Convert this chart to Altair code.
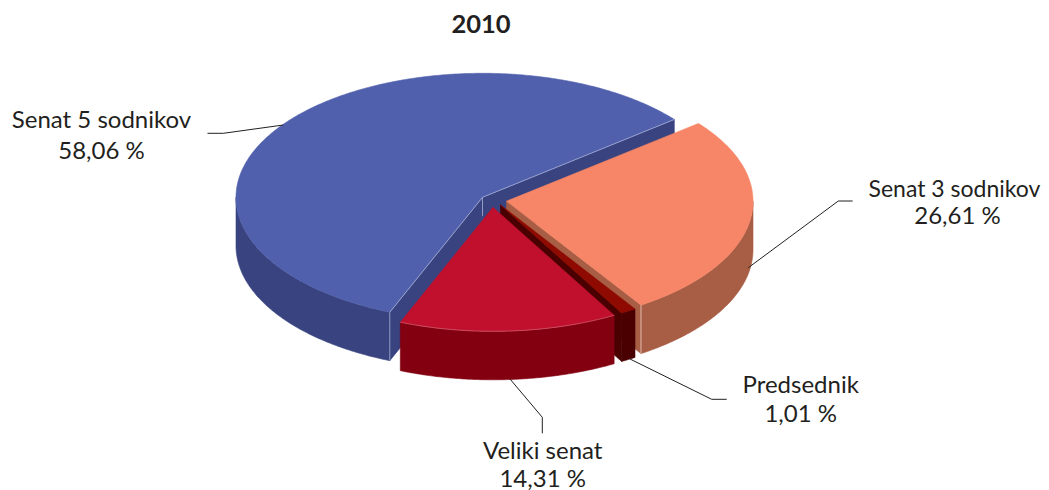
import numpy as np
import pandas as pd
import altair as alt

# ---- chart values ----
title = "2010"
categories = ["Senat 5 sodnikov", "Veliki senat", "Predsednik", "Senat 3 sodnikov"]
shares = [58.06, 14.31, 1.01, 26.61]
share_labels = ["58,06 %", "14,31 %", "1,01 %", "26,61 %"]

# ---- styling ----
top_colors = ["#5060AC", "#C0102E", "#8F0A00", "#F68667"]
side_colors = ["#38437F", "#830011", "#4A0000", "#A85D45"]
edge_colors = ["#A9B1D6", "#D9727F", "#8F0A00", "#F5D8CC"]
centers = [(482.5, 197.3), (493.0, 207.3), (500.5, 205.0), (506.5, 201.2)]
RX, RY, DEPTH, START = 246.5, 124.0, 48.5, 38.9
W, H = 1033, 482

# name x, share x, name baseline, share baseline, name font size
label_pos = [
    (101.5, 101.5, 128, 159, 24),
    (542.7, 542.7, 459.0, 486.5, 24),
    (800.7, 800.7, 393, 421.7, 24),
    (954.5, 957.5, 197, 224, 23),
]
leaders = [
    [(207.5, 133.3), (223.3, 133.3), (283.3, 125)],
    [(510, 379), (542.3, 417.3), (542.3, 433.3)],
    [(630, 359), (711.7, 399.3), (726.7, 399.3)],
    [(748.3, 267.7), (838.3, 201), (852.7, 201)],
]

x_scale = alt.Scale(domain=[8, 8 + W], range=[0, W], nice=False, zero=False)
y_scale = alt.Scale(domain=[8, 8 + H], range=[0, H], nice=False, zero=False)


def pt(c, deg, drop=0.0):
    a = np.radians(deg)
    return (c[0] + RX * np.cos(a), c[1] - RY * np.sin(a) + drop)


def arc(c, a0, a1, drop=0.0):
    n = max(2, int(abs(a1 - a0) * 2))
    return [pt(c, d, drop) for d in np.linspace(a0, a1, n)]


def frame(points):
    return pd.DataFrame({"x": [p[0] for p in points], "y": [p[1] for p in points], "i": range(len(points))})


def poly(points, color):
    pts = list(points) + [points[0]]
    return alt.Chart(frame(pts)).mark_line(fill=color, stroke=color, strokeWidth=0.6, strokeJoin="round").encode(
        x=alt.X("x:Q", scale=x_scale, axis=None),
        y=alt.Y("y:Q", scale=y_scale, axis=None),
        order="i:Q",
    )


def line(points, color, width=1.0):
    return alt.Chart(frame(points)).mark_line(stroke=color, strokeWidth=width).encode(
        x=alt.X("x:Q", scale=x_scale, axis=None),
        y=alt.Y("y:Q", scale=y_scale, axis=None),
        order="i:Q",
    )


def cut_face(c, deg, color):
    return poly([c, pt(c, deg), pt(c, deg, DEPTH), (c[0], c[1] + DEPTH)], color)


def wall(c, a0, a1, color):
    return poly(arc(c, a0, a1) + arc(c, a1, a0, DEPTH), color)


def top(c, a0, a1, color):
    return poly([c] + arc(c, a0, a1), color)


bounds = [START]
for s in shares:
    bounds.append(bounds[-1] + s * 3.6)
blue0, blue1 = bounds[0], bounds[1]
red0, red1 = bounds[1], bounds[2]
pre0, pre1 = bounds[2], bounds[3]
sal0, sal1 = bounds[3], bounds[4]
cb, cr, cp, cs = centers

layers = [
    # back slice
    cut_face(cb, blue0, side_colors[0]),
    cut_face(cb, blue1, side_colors[0]),
    wall(cb, 180, blue1, side_colors[0]),
    top(cb, blue0, blue1, top_colors[0]),
    line([pt(cb, blue0), cb, pt(cb, blue1)], edge_colors[0], 0.8),
    line([cb, (cb[0], cb[1] + DEPTH - 30)], edge_colors[0], 0.8),
    line([pt(cb, blue1), pt(cb, blue1, DEPTH)], edge_colors[0], 0.8),
    # right slice
    cut_face(cs, sal0, side_colors[3]),
    wall(cs, sal0, 360, side_colors[3]),
    top(cs, sal0, sal1, top_colors[3]),
    line([pt(cs, sal0), pt(cs, sal0, DEPTH)], edge_colors[3], 0.8),
    # thin slice
    cut_face(cp, pre0, side_colors[2]),
    wall(cp, pre0, pre1, side_colors[2]),
    top(cp, pre0, pre1, top_colors[2]),
    # front slice
    wall(cr, red0, red1, side_colors[1]),
    top(cr, red0, red1, top_colors[1]),
    line(arc(cr, red0, red1), edge_colors[1], 0.6),
]

for pts in leaders:
    layers.append(line(pts, "#231F20", 1.0))

text_rows = []
for name, lab, (nx, sx, y1, y2, fs) in zip(categories, share_labels, label_pos):
    text_rows.append({"x": nx, "y": y1, "t": name, "fs": fs})
    text_rows.append({"x": sx, "y": y2, "t": lab, "fs": 24})

layers.append(
    alt.Chart(pd.DataFrame(text_rows)).mark_text(
        font="Lato", color="#231F20", align="center", baseline="alphabetic"
    ).encode(
        x=alt.X("x:Q", scale=x_scale, axis=None),
        y=alt.Y("y:Q", scale=y_scale, axis=None),
        text="t:N",
        size=alt.Size("fs:Q", scale=None, legend=None),
    )
)
layers.append(
    alt.Chart(pd.DataFrame({"x": [481], "y": [33], "t": [title]})).mark_text(
        font="Lato", fontSize=25.5, fontWeight="bold", color="#231F20", align="center", baseline="alphabetic"
    ).encode(
        x=alt.X("x:Q", scale=x_scale, axis=None),
        y=alt.Y("y:Q", scale=y_scale, axis=None),
        text="t:N",
    )
)

chart = alt.layer(*layers).properties(
    width=W, height=H, padding=0, autosize=alt.AutoSizeParams(type="none")
).configure_view(stroke=None)

chart.save("out.html", embed_options={"renderer": "svg", "actions": False})
